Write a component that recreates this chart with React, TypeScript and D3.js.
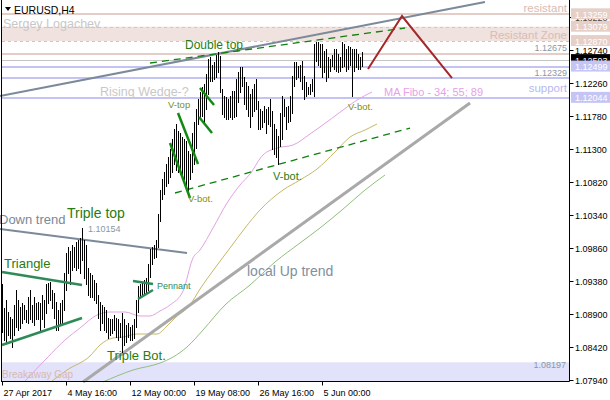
import React from 'react';
import * as d3 from 'd3';

const W = 610;
const H = 400;

// ---- Bar data (EURUSD H4), highs and lows ----
const highs = [
  1.0933,1.0899,1.0911,1.0893,1.0886,1.0882,1.0903,1.0925,1.0911,1.0900,
  1.0906,1.0903,1.0896,1.0915,1.0925,1.0903,1.0915,1.0906,1.0908,1.0906,
  1.0918,1.0911,1.0933,1.0935,1.0937,1.0925,1.0921,1.0908,1.0896,1.0906,
  1.0911,1.0950,1.0979,1.0987,1.0981,1.0991,1.0987,1.0995,1.0998,1.1001,
  1.1015,1.0998,1.0991,1.0957,1.0950,1.0947,1.0940,1.0935,1.0918,1.0908,
  1.0903,1.0900,1.0896,1.0884,1.0882,1.0882,1.0889,1.0884,1.0882,1.0877,
  1.0892,1.0882,1.0874,1.0877,1.0871,1.0874,1.0882,1.0911,1.0930,1.0933,
  1.0935,1.0940,1.0943,1.0962,1.0984,1.0988,1.0991,1.0998,1.1035,1.1071,
  1.1086,1.1097,1.1108,1.1118,1.1130,1.1144,1.1159,1.1166,1.1156,1.1154,
  1.1147,1.1144,1.1141,1.1127,1.1122,1.1154,1.1169,1.1188,1.1202,1.1213,
  1.1220,1.1224,1.1239,1.1261,1.1264,1.1252,1.1256,1.1267,1.1271,1.1265,
  1.1217,1.1207,1.1205,1.1202,1.1207,1.1214,1.1214,1.1232,1.1242,1.1249,
  1.1249,1.1235,1.1227,1.1222,1.1210,1.1217,1.1224,1.1232,1.1200,1.1188,
  1.1185,1.1192,1.1188,1.1191,1.1202,1.1185,1.1166,1.1159,1.1149,1.1183,
  1.1207,1.1202,1.1191,1.1192,1.1207,1.1236,1.1256,1.1256,1.1251,1.1252,
  1.1258,1.1236,1.1227,1.1220,1.1224,1.1232,1.1283,1.1286,1.1286,1.1283,
  1.1283,1.1272,1.1275,1.1264,1.1261,1.1267,1.1275,1.1275,1.1268,1.1264,
  1.1286,1.1283,1.1275,1.1280,1.1278,1.1275,1.1275,1.1275,1.1268,1.1264,1.1271,
];
const lows = [
  1.0864,1.0852,1.0848,1.0860,1.0855,1.0842,1.0860,1.0871,1.0867,1.0870,
  1.0877,1.0882,1.0879,1.0877,1.0882,1.0879,1.0874,1.0882,1.0882,1.0867,
  1.0882,1.0871,1.0892,1.0906,1.0911,1.0899,1.0884,1.0867,1.0867,1.0877,
  1.0877,1.0896,1.0925,1.0950,1.0933,1.0954,1.0959,1.0954,1.0957,1.0950,
  1.0969,1.0943,1.0933,1.0918,1.0915,1.0915,1.0911,1.0906,1.0884,1.0867,
  1.0877,1.0867,1.0864,1.0855,1.0860,1.0863,1.0867,1.0857,1.0852,1.0857,
  1.0835,1.0845,1.0849,1.0857,1.0852,1.0852,1.0855,1.0871,1.0893,1.0915,
  1.0918,1.0918,1.0921,1.0925,1.0944,1.0962,1.0972,1.0973,1.0988,1.1025,
  1.1057,1.1064,1.1076,1.1081,1.1089,1.1096,1.1108,1.1100,1.1097,1.1093,
  1.1093,1.1086,1.1078,1.1062,1.1086,1.1096,1.1108,1.1132,1.1166,1.1176,
  1.1178,1.1166,1.1188,1.1210,1.1229,1.1229,1.1232,1.1235,1.1242,1.1213,
  1.1181,1.1176,1.1173,1.1173,1.1176,1.1173,1.1176,1.1178,1.1198,1.1213,
  1.1222,1.1195,1.1188,1.1178,1.1162,1.1178,1.1185,1.1188,1.1159,1.1159,
  1.1162,1.1169,1.1154,1.1166,1.1163,1.1130,1.1122,1.1118,1.1108,1.1134,
  1.1144,1.1178,1.1159,1.1169,1.1170,1.1183,1.1222,1.1232,1.1235,1.1229,
  1.1217,1.1202,1.1207,1.1210,1.1210,1.1214,1.1207,1.1258,1.1252,1.1249,
  1.1235,1.1242,1.1229,1.1235,1.1243,1.1251,1.1246,1.1243,1.1242,1.1243,
  1.1249,1.1251,1.1243,1.1246,1.1252,1.1207,1.1243,1.1249,1.1246,1.1246,1.1251,
];

// ---- Axis labels ----
const timeLabels = ['27 Apr 2017', '4 May 16:00', '12 May 00:00', '19 May 08:00', '26 May 16:00', '5 Jun 00:00'];
const timeLabelIdx = [0, 32, 64, 96, 128, 160];
const priceTicks = [1.0794, 1.0842, 1.0890, 1.0938, 1.0986, 1.1034, 1.1082, 1.1130, 1.1178, 1.1226, 1.1274, 1.1322];

// ---- Moving averages (Fibo 34 / 55 / 89), sampled at bar indices ----
const ma34Idx = [11.25, 22.25, 31.25, 38.75, 47.25, 53.75, 61.25, 68.75, 73.75, 78.75, 83.75, 90.25, 95.25, 98.75, 105.25, 112.25, 118.75, 123.75, 130.25, 137.25, 145.25, 153.75, 158.75, 170.25, 177.25, 184.75];
const ma34 = [1.07925, 1.0826, 1.08522, 1.08696, 1.08885, 1.08929, 1.08929, 1.08871, 1.08871, 1.08944, 1.09031, 1.09234, 1.09714, 1.09831, 1.10151, 1.10514, 1.10776, 1.10936, 1.11213, 1.11314, 1.11358, 1.11518, 1.1162, 1.11867, 1.12012, 1.12129];
const ma55Idx = [24.75, 32.25, 43.75, 48.75, 55.25, 60.25, 67.25, 77.25, 82.25, 86.25, 93.75, 98.75, 106.25, 113.75, 121.25, 128.75, 140.25, 148.75, 157.25, 166.25, 173.75, 181.25, 187.25];
const ma55 = [1.07925, 1.08085, 1.08289, 1.08449, 1.08551, 1.08565, 1.08609, 1.08609, 1.08725, 1.08842, 1.09031, 1.09263, 1.09569, 1.0986, 1.10151, 1.10413, 1.10703, 1.10849, 1.11009, 1.11256, 1.11474, 1.11576, 1.11663];
const ma89Idx = [50.25, 65.25, 78.75, 85.25, 92.25, 100.25, 111.25, 123.75, 136.25, 148.75, 158.75, 169.75, 181.25, 191.25];
const ma89 = [1.07911, 1.08085, 1.08187, 1.08274, 1.0842, 1.08667, 1.09031, 1.09322, 1.09656, 1.09933, 1.10151, 1.10413, 1.10703, 1.10922];

// ---- Horizontal levels ----
const levelResistant = 1.13259;
const zoneTop = 1.13079;
const zoneBottom = 1.1287;
const level12675 = 1.12675;
const bidPrice = 1.12593;
const level12499 = 1.12499;
const level12329 = 1.12329;
const levelSupport = 1.12044;
const levelGap = 1.08197;
const tripleTopPrice = 1.10154;

// ---- Trend lines as [bar index, price] ----
const wedgeUpper = [[-1.25, 1.12071], [241.25, 1.13438]];
const localUp = [[40.25, 1.07911], [233.75, 1.11969]];
const downTrend = [[-1.25, 1.10136], [92.25, 1.09787]];
const triUpper = [[-0.25, 1.09511], [39.75, 1.09322]];
const triLower = [[-0.25, 1.08449], [39.75, 1.08842]];
const penUpper = [[65.25, 1.0938], [75.25, 1.09336]];
const penLower = [[67.75, 1.09118], [75.25, 1.09249]];
const vLine1 = [[87.75, 1.11823], [97.75, 1.11082]];
const vLine2 = [[83.75, 1.11387], [93.75, 1.10587]];
const vTop1 = [[98.75, 1.12187], [105.75, 1.1194]];
const vTop2 = [[98.25, 1.11765], [104.75, 1.11533]];
const dashUpper = [[73.75, 1.12551], [201.25, 1.1306]];
const dashLower = [[86.25, 1.1066], [203.75, 1.11605]];
const forecast = [[182.75, 1.12463], [199.75, 1.13234], [224.75, 1.12332]];

const FONT = "'Liberation Sans', Arial, sans-serif";
const GREEN_TXT = '#2a7a12';
const OLIVE_TXT = '#7a9010';

export default function App() {
  const x = d3.scaleLinear().domain([0, 180]).range([2.5, 362.5]);
  const y = d3.scaleLinear().domain([1.0794, 1.1274]).range([380, 50]);
  const plotRight = 569.5;
  const plotBottom = 381.5;

  const line = d3.line<number[]>().x(d => x(d[0])).y(d => y(d[1]));
  const maLine = d3.line<number[]>().x(d => x(d[0])).y(d => y(d[1])).curve(d3.curveMonotoneX);
  const zip = (a: number[], b: number[]) => a.map((v, i) => [v, b[i]]);

  const hl = (p: number, color: string, w: number, dash?: string) => (
    <line x1={2} x2={plotRight} y1={Math.round(y(p)) + (w % 2 ? 0.5 : 0)} y2={Math.round(y(p)) + (w % 2 ? 0.5 : 0)} stroke={color} strokeWidth={w} strokeDasharray={dash} />
  );

  const priceBox = (p: number, bg: string, fg: string) => {
    const cy = y(p);
    return (
      <g>
        <rect x={571} y={cy - 6} width={40} height={11} fill={bg} />
        <text x={575} y={cy + 3.5} fontSize={9} fill={fg} fontFamily={FONT}>{p.toFixed(5)}</text>
      </g>
    );
  };

  return (
    <svg width={W} height={H} style={{ position: 'absolute', left: 0, top: 0, background: '#fff' }} xmlns="http://www.w3.org/2000/svg">
      <rect x={0} y={0} width={W} height={H} fill="#fff" />
      {/* Breakaway gap band */}
      <rect x={2} y={y(levelGap)} width={plotRight - 2} height={plotBottom - y(levelGap)} fill="#e2e2fb" />
      {/* Resistant zone band */}
      <rect x={2} y={y(zoneTop)} width={plotRight - 2} height={y(zoneBottom) - y(zoneTop)} fill="#f0e2de" />
      {hl(zoneTop, '#d9c2bb', 1, '3,3')}
      {hl(zoneBottom, '#d9c2bb', 1, '3,3')}
      {hl(levelResistant, '#e3cdc6', 2)}
      {hl(level12675, '#e3cdc6', 2)}
      {hl(bidPrice, '#c4c4c4', 1)}
      {hl(level12499, '#c4c4f4', 2)}
      {hl(level12329, '#c4c4f4', 2)}
      {hl(levelSupport, '#c4c4f4', 2)}

      {/* Moving averages */}
      <path d={maLine(zip(ma89Idx, ma89)) || ''} fill="none" stroke="#8fc07c" strokeWidth={1} />
      <path d={maLine(zip(ma55Idx, ma55)) || ''} fill="none" stroke="#c6b865" strokeWidth={1} />
      <path d={maLine(zip(ma34Idx, ma34)) || ''} fill="none" stroke="#e2a2e2" strokeWidth={1} />

      {/* Trend lines */}
      <path d={line(localUp) || ''} stroke="#a9a9a9" strokeWidth={3} fill="none" />
      <path d={line(wedgeUpper) || ''} stroke="#7b8a9a" strokeWidth={2} fill="none" />
      <path d={line(downTrend) || ''} stroke="#7b8a9a" strokeWidth={2} fill="none" />
      <path d={line(dashUpper) || ''} stroke="#108010" strokeWidth={1.3} strokeDasharray="7,5" fill="none" />
      <path d={line(dashLower) || ''} stroke="#108010" strokeWidth={1.3} strokeDasharray="7,5" fill="none" />

      {/* Bars */}
      {highs.map((h, i) => (
        <line key={i} x1={x(i)} x2={x(i)} y1={Math.round(y(h))} y2={Math.round(y(lows[i])) + 1} stroke="#000" strokeWidth={1} />
      ))}

      <path d={line(triUpper) || ''} stroke="#2e8b57" strokeWidth={2.5} fill="none" />
      <path d={line(triLower) || ''} stroke="#2e8b57" strokeWidth={2.5} fill="none" />
      <path d={line(penUpper) || ''} stroke="#2e8b57" strokeWidth={2.5} fill="none" />
      <path d={line(penLower) || ''} stroke="#2e8b57" strokeWidth={2.5} fill="none" />
      {[vLine1, vLine2, vTop1, vTop2].map((l, k) => (
        <path key={k} d={line(l) || ''} stroke="#138a13" strokeWidth={2.5} fill="none" />
      ))}
      <path d={line(forecast) || ''} stroke="#a3282a" strokeWidth={2} fill="none" />

      {/* Texts */}
      <polygon points="5,7 11,7 8,11" fill="#000" />
      <text x={14} y={14} fontSize={10.5} fontFamily={FONT} fill="#000">EURUSD,H4</text>
      <text x={3} y={28} fontSize={12.5} fontFamily={FONT} fill="#c8c8c8">Sergey Logachev</text>
      <text x={100} y={96} fontSize={12.5} fontFamily={FONT} fill="#c8c8c8">Rising Wedge-?</text>
      <text x={567} y={12} fontSize={11.5} fontFamily={FONT} fill="#d8bcb4" textAnchor="end">resistant</text>
      <text x={567} y={39} fontSize={11.5} fontFamily={FONT} fill="#d8bcb4" textAnchor="end">Resistant Zone</text>
      <text x={567} y={y(level12675) - 3} fontSize={9} fontFamily={FONT} fill="#8a98a8" textAnchor="end">{level12675.toFixed(5)}</text>
      <text x={567} y={y(level12329) - 2.5} fontSize={9} fontFamily={FONT} fill="#8a98a8" textAnchor="end">{level12329.toFixed(5)}</text>
      <text x={567} y={92} fontSize={11.5} fontFamily={FONT} fill="#b8b8f0" textAnchor="end">support</text>
      <text x={384} y={96} fontSize={11} fontFamily={FONT} fill="#e8a0e8">MA Fibo - 34; 55; 89</text>
      <text x={185} y={49} fontSize={12} fontFamily={FONT} fill={GREEN_TXT}>Double top</text>
      <text x={168} y={108} fontSize={9.5} fontFamily={FONT} fill={OLIVE_TXT}>V-top</text>
      <text x={188} y={202} fontSize={9.5} fontFamily={FONT} fill={OLIVE_TXT}>V-bot.</text>
      <text x={273} y={180} fontSize={11} fontFamily={FONT} fill={GREEN_TXT}>V-bot.</text>
      <text x={348} y={110} fontSize={9.5} fontFamily={FONT} fill={OLIVE_TXT}>V-bot.</text>
      <text x={-1} y={224} fontSize={13} fontFamily={FONT} fill="#7a8898">Down trend</text>
      <text x={67} y={218} fontSize={14} fontFamily={FONT} fill={GREEN_TXT}>Triple top</text>
      <text x={88} y={232} fontSize={9} fontFamily={FONT} fill="#8a98a8">{tripleTopPrice.toFixed(5)}</text>
      <text x={4} y={268} fontSize={13} fontFamily={FONT} fill={GREEN_TXT}>Triangle</text>
      <text x={157} y={289} fontSize={9} fontFamily={FONT} fill="#2e8b57">Pennant</text>
      <text x={247} y={276} fontSize={14} fontFamily={FONT} fill="#8090a0">local Up trend</text>
      <text x={107} y={360} fontSize={13} fontFamily={FONT} fill={GREEN_TXT}>Triple Bot.</text>
      <text x={2} y={378} fontSize={10} fontFamily={FONT} fill="#d8b8b0">Breakaway Gap</text>
      <text x={566} y={y(levelGap) + 6} fontSize={9} fontFamily={FONT} fill="#8a98a8" textAnchor="end">{levelGap.toFixed(5)}</text>

      {/* Frame */}
      <line x1={1.5} x2={1.5} y1={0} y2={plotBottom} stroke="#000" />
      <line x1={1} x2={plotRight} y1={plotBottom} y2={plotBottom} stroke="#000" />
      <line x1={plotRight} x2={plotRight} y1={0} y2={plotBottom} stroke="#000" />

      {/* Price axis */}
      {priceTicks.map((p, k) => (
        <g key={k}>
          <line x1={plotRight} x2={plotRight + 4} y1={Math.round(y(p)) + 0.5} y2={Math.round(y(p)) + 0.5} stroke="#000" />
          <text x={575} y={y(p) + 3.5} fontSize={9} fontFamily={FONT} fill="#000">{p.toFixed(5)}</text>
        </g>
      ))}
      {priceBox(levelResistant, '#e6cfc7', '#fff')}
      {priceBox(zoneTop, '#e6cfc7', '#fff')}
      {priceBox(zoneBottom, '#e6cfc7', '#fff')}
      {priceBox(bidPrice, '#000', '#fff')}
      {priceBox(level12499, '#c5c5f5', '#fff')}
      {priceBox(levelSupport, '#c5c5f5', '#fff')}

      {/* Time axis */}
      {timeLabelIdx.map((idx, k) => (
        <g key={k}>
          <line x1={x(idx)} x2={x(idx)} y1={plotBottom} y2={plotBottom + 4} stroke="#000" />
          <text x={x(idx) + 1} y={395.5} fontSize={9} fontFamily={FONT} fill="#000">{timeLabels[k]}</text>
        </g>
      ))}
    </svg>
  );
}
